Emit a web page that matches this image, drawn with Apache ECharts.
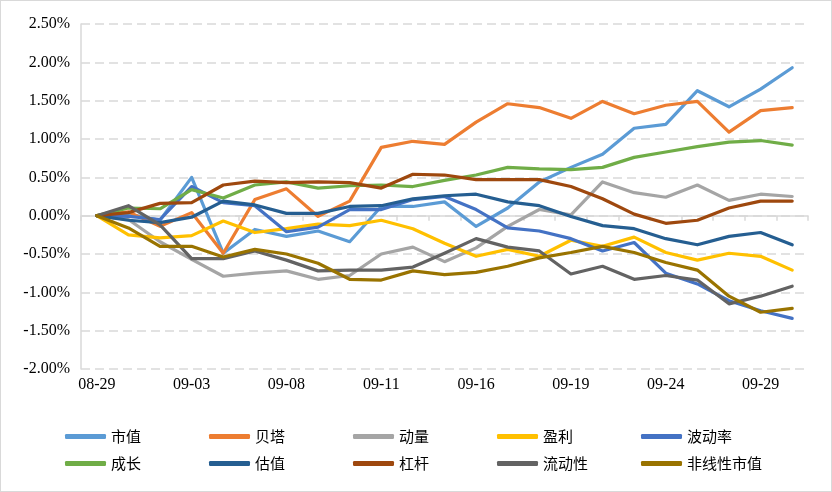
<!DOCTYPE html>
<html>
<head>
<meta charset="utf-8">
<script src="https://cdn.jsdelivr.net/npm/echarts@6/dist/echarts.min.js"></script>
<style>
html,body{margin:0;padding:0;background:#fff;}
#c{width:832px;height:492px;box-sizing:border-box;border:1px solid #d9d9d9;}
</style>
</head>
<body>
<div id="c"></div>
<script>
const categories = ['08-29','09-01','09-02','09-03','09-04','09-05','09-08','09-09','09-10','09-11','09-12','09-15','09-16','09-17','09-18','09-19','09-22','09-23','09-24','09-25','09-26','09-29','09-30'];
const seriesNames = ['市值','贝塔','动量','盈利','波动率','成长','估值','杠杆','流动性','非线性市值'];
const shizhi   = [0, 0.02, -0.06, 0.50, -0.49, -0.18, -0.27, -0.20, -0.34, 0.12, 0.12, 0.18, -0.14, 0.10, 0.44, 0.63, 0.80, 1.14, 1.19, 1.63, 1.42, 1.65, 1.93];
const beita    = [0, 0.05, -0.14, 0.04, -0.49, 0.21, 0.35, -0.01, 0.19, 0.89, 0.97, 0.93, 1.22, 1.46, 1.41, 1.27, 1.49, 1.33, 1.44, 1.49, 1.09, 1.37, 1.41];
const dongliang= [0, -0.05, -0.34, -0.57, -0.79, -0.75, -0.72, -0.83, -0.78, -0.50, -0.41, -0.60, -0.42, -0.14, 0.08, 0.01, 0.44, 0.30, 0.24, 0.40, 0.20, 0.28, 0.25];
const yingli   = [0, -0.25, -0.29, -0.26, -0.07, -0.22, -0.17, -0.11, -0.13, -0.06, -0.17, -0.36, -0.53, -0.44, -0.53, -0.32, -0.40, -0.28, -0.48, -0.58, -0.49, -0.53, -0.71];
const bodonglv = [0, -0.01, -0.05, 0.38, 0.17, 0.13, -0.21, -0.15, 0.08, 0.08, 0.21, 0.25, 0.08, -0.16, -0.20, -0.30, -0.46, -0.35, -0.75, -0.89, -1.11, -1.24, -1.34];
const chengzhang=[0, 0.10, 0.09, 0.34, 0.23, 0.40, 0.44, 0.36, 0.39, 0.40, 0.38, 0.46, 0.53, 0.63, 0.61, 0.60, 0.63, 0.76, 0.83, 0.90, 0.96, 0.98, 0.92];
const guzhi    = [0, -0.06, -0.09, -0.02, 0.19, 0.14, 0.03, 0.03, 0.12, 0.13, 0.22, 0.26, 0.28, 0.18, 0.13, -0.01, -0.13, -0.17, -0.30, -0.38, -0.27, -0.22, -0.38];
const ganggan  = [0, 0.04, 0.16, 0.17, 0.40, 0.45, 0.43, 0.44, 0.43, 0.36, 0.54, 0.53, 0.47, 0.47, 0.47, 0.38, 0.22, 0.02, -0.10, -0.06, 0.10, 0.19, 0.19];
const liudongxing=[0, 0.13, -0.12, -0.56, -0.56, -0.46, -0.58, -0.72, -0.71, -0.71, -0.67, -0.49, -0.30, -0.41, -0.46, -0.76, -0.66, -0.83, -0.78, -0.84, -1.15, -1.05, -0.92];
const feixian  = [0, -0.16, -0.40, -0.40, -0.54, -0.44, -0.50, -0.62, -0.83, -0.84, -0.72, -0.77, -0.74, -0.66, -0.55, -0.48, -0.40, -0.48, -0.61, -0.71, -1.05, -1.26, -1.21];
const yTicks = {min: -2, max: 2.5, interval: 0.5};

const allData = [shizhi, beita, dongliang, yingli, bodonglv, chengzhang, guzhi, ganggan, liudongxing, feixian];
const colors = ['#5B9BD5','#ED7D31','#A5A5A5','#FFC000','#4472C4','#70AD47','#255E91','#9E480E','#636363','#997300'];

const chart = echarts.init(document.getElementById('c'));
const legends = seriesNames.map((n, i) => ({
  orient: 'horizontal',
  left: 59 + (i % 5) * 144,
  top: i < 5 ? 423 : 450,
  itemWidth: 41,
  itemHeight: 5,
  itemGap: 0,
  icon: 'roundRect',
  data: [n],
  textStyle: {fontFamily: '"Noto Sans CJK SC", sans-serif', fontSize: 15, color: '#000'}
}));
chart.setOption({
  animation: false,
  color: colors,
  legend: legends,
  grid: {left: 80, right: 23, top: 23, bottom: 122, containLabel: false},
  xAxis: [
    {
      type: 'category', data: categories, boundaryGap: true, position: 'bottom',
      axisLine: {show: false, onZero: false},
      axisTick: {show: false},
      axisLabel: {interval: 2, margin: 8, color: '#000', fontFamily: '"Liberation Serif", serif', fontSize: 16},
      splitLine: {show: false}
    },
    {
      type: 'category', data: categories, boundaryGap: true, position: 'top',
      axisLine: {show: true, onZero: true, lineStyle: {color: '#d9d9d9', width: 1.5}},
      axisTick: {show: true, inside: true, length: 5, interval: 0, lineStyle: {color: '#d9d9d9', width: 1.5}},
      axisLabel: {show: false},
      splitLine: {show: false}
    }
  ],
  yAxis: {
    type: 'value', min: yTicks.min, max: yTicks.max, interval: yTicks.interval,
    axisLine: {show: true, lineStyle: {color: '#d9d9d9', width: 1.5}},
    axisTick: {show: false},
    axisLabel: {margin: 11, color: '#000', fontFamily: '"Liberation Serif", serif', fontSize: 16,
      formatter: v => v.toFixed(2) + '%'},
    splitLine: {show: true, lineStyle: {color: '#d9d9d9', type: [9, 5], width: 1.5}}
  },
  series: seriesNames.map((n, i) => ({
    name: n, type: 'line', data: allData[i], xAxisIndex: 0,
    symbol: 'none', showSymbol: false,
    lineStyle: {width: 3.2, color: colors[i], join: 'round', cap: 'round'},
    itemStyle: {color: colors[i]}
  }))
});
</script>
</body>
</html>
